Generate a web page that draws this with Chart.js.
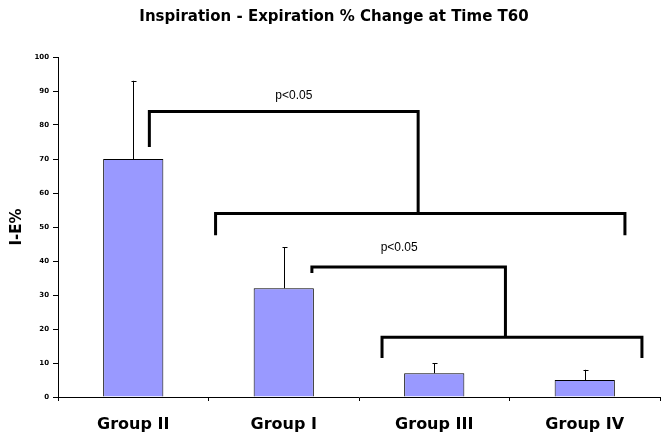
<html>
<head>
<script src="https://cdn.jsdelivr.net/npm/chart.js"></script>
<style>
  body { margin: 0; background: #fff; }
  #wrap { width: 669px; height: 443px; }
</style>
</head>
<body>
<div id="wrap"><canvas id="myChart" width="669" height="443"></canvas></div>
<script>
// data
const categories = ['Group II', 'Group I', 'Group III', 'Group IV'];
const means = [70, 32, 7, 5];
const errTop = [93, 44, 10, 8];
const yTicks = [0, 10, 20, 30, 40, 50, 60, 70, 80, 90, 100];

// significance brackets, points are [category index, value]
const brackets = [
  [[0.107, 73.5], [0.107, 84], [1.893, 84], [1.893, 54]],
  [[0.547, 47.6], [0.547, 54], [3.267, 54], [3.267, 47.6]],
  [[1.187, 36.5], [1.187, 38.2], [2.473, 38.2], [2.473, 17.6]],
  [[1.653, 11.5], [1.653, 17.6], [3.38, 17.6], [3.38, 11.5]]
];
const bracketLabels = [['p<0.05', 1.067, 88.5], ['p<0.05', 1.767, 44]];

const extras = {
  id: 'extras',
  afterDatasetsDraw(chart) {
    const ctx = chart.ctx;
    const x = chart.scales.x, y = chart.scales.y;
    ctx.save();
    // error bars
    ctx.strokeStyle = '#000';
    ctx.lineWidth = 1;
    errTop.forEach((v, i) => {
      const px = Math.round(x.getPixelForValue(i)) + 0.5;
      ctx.beginPath();
      ctx.moveTo(px, y.getPixelForValue(means[i]));
      ctx.lineTo(px, y.getPixelForValue(v));
      ctx.moveTo(px - 2, Math.round(y.getPixelForValue(v)) + 0.5);
      ctx.lineTo(px + 3, Math.round(y.getPixelForValue(v)) + 0.5);
      ctx.stroke();
    });
    // brackets
    ctx.lineWidth = 3;
    ctx.lineJoin = 'miter';
    brackets.forEach(b => {
      ctx.beginPath();
      b.forEach((p, k) => {
        const px = x.getPixelForValue(p[0]), py = y.getPixelForValue(p[1]);
        if (k === 0) ctx.moveTo(px, py); else ctx.lineTo(px, py);
      });
      ctx.stroke();
    });
    ctx.fillStyle = '#000';
    ctx.font = '12px Arial, "Liberation Sans"';
    ctx.textAlign = 'center';
    ctx.textBaseline = 'middle';
    bracketLabels.forEach(l => {
      ctx.fillText(l[0], x.getPixelForValue(l[1]), y.getPixelForValue(l[2]));
    });
    ctx.restore();
  }
};

const config = {
  type: 'bar',
  data: {
    labels: categories,
    datasets: [{
      data: means,
      backgroundColor: '#9999FF',
      borderColor: '#000',
      borderWidth: 1,
      barPercentage: 0.4,
      categoryPercentage: 1.0
    }]
  },
  options: {
    responsive: false,
    animation: false,
    layout: { padding: { left: 8, right: 9, top: 0, bottom: 0 } },
    plugins: {
      legend: { display: false },
      tooltip: { enabled: false },
      title: {
        display: true,
        text: 'Inspiration - Expiration % Change at Time T60',
        color: '#000',
        font: { family: '"DejaVu Sans"', size: 15, weight: 'bold' },
        padding: { top: 8, bottom: 31 }
      }
    },
    scales: {
      x: {
        offset: true,
        grid: { display: true, drawOnChartArea: false, offset: true, color: '#000', tickLength: 4 },
        border: { color: '#000', width: 1 },
        ticks: {
          color: '#000',
          font: { family: '"DejaVu Sans"', size: 16, weight: 'bold' },
          padding: 14
        },
        afterFit(s) { s.height = 46; }
      },
      y: {
        min: 0,
        max: 100,
        afterBuildTicks(s) { s.ticks = yTicks.map(v => ({ value: v })); },
        grid: { display: true, drawOnChartArea: false, color: '#000', tickLength: 5 },
        border: { color: '#000', width: 1 },
        ticks: {
          color: '#000',
          font: { family: '"DejaVu Sans"', size: 7, weight: 'bold' },
          padding: 4
        },
        title: {
          display: true,
          text: 'I-E%',
          color: '#000',
          font: { family: '"DejaVu Sans"', size: 15, weight: 'bold' },
          padding: { top: 0, bottom: 8 }
        },
        afterFit(s) { s.width = 50; }
      }
    }
  },
  plugins: [extras]
};

const myChart = new Chart(document.getElementById('myChart'), config);
</script>
</body>
</html>
